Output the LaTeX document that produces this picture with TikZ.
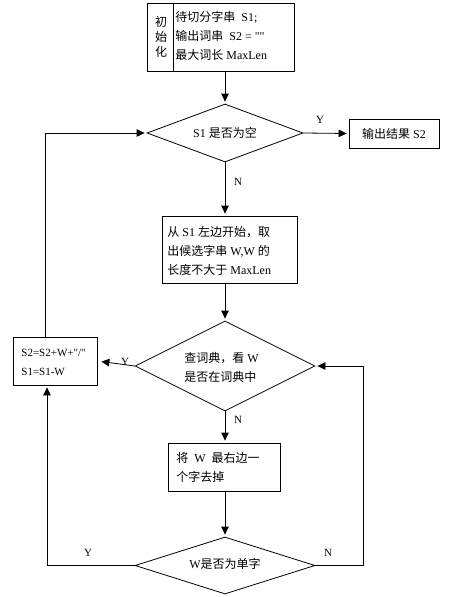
\documentclass[tikz,border=0pt]{standalone}
\usepackage{fontspec}
\setmainfont{Liberation Serif}[Ligatures=TeXOff]
\newfontfamily\cjk{Noto Sans CJK SC}
\usetikzlibrary{shapes.geometric,arrows.meta}
\begin{document}
\begin{tikzpicture}[x=1pt,y=-1pt,
  font=\fontsize{12}{19}\selectfont,
  line width=0.8pt,
  box/.style={draw, inner sep=0pt},
  dia/.style={draw, diamond, inner sep=0pt},
  arr/.style={-{Triangle[length=8pt,width=7.5pt]}, shorten >=2pt},
  lbl/.style={font=\fontsize{11}{12}\selectfont, inner sep=1pt},
  txt/.style={anchor=west, align=left, inner sep=0pt}]
\useasboundingbox (0,0) rectangle (457,597);
\fill[white] (0,0) rectangle (457,597);

% init box
\node[box, minimum width=147pt, minimum height=68pt] (init) at (220.5,37) {};
\draw (173,3) -- (173,71);
\node[align=center, inner sep=0pt, font=\cjk\fontsize{12}{15}\selectfont] (initlbl) at (161,37) {初\\始\\化};
\node[txt] (inittxt) at (175,36) {{\cjk 待切分字串}\ \ S1;\\{\cjk 输出词串}\ \ S2 = ""\\{\cjk 最大词长} MaxLen};

% diamond 1
\node[dia, minimum width=156pt, minimum height=58pt] (d1) at (225,133) {};
\node[inner sep=0pt] (d1t) at (225,133) {S1 {\cjk 是否为空}};

% output box
\node[box, minimum width=90pt, minimum height=29pt] (out) at (394,133.5) {};
\node[inner sep=0pt] (outt) at (394,133.5) {{\cjk 输出结果} S2};

% box 2
\node[box, minimum width=135pt, minimum height=67pt] (b2) at (229.5,249.5) {};
\node[txt] (b2t) at (167,251) {{\cjk 从} S1 {\cjk 左边开始，取}\\{\cjk 出候选字串} W,W {\cjk 的}\\{\cjk 长度不大于} MaxLen};

% diamond 2
\node[dia, minimum width=180pt, minimum height=90pt] (d2) at (225,366) {};
\node[txt] (d2t) at (184,367) {{\cjk 查词典，看} W\\{\cjk 是否在词典中}};

% left box
\node[box, minimum width=84pt, minimum height=48pt] (lb) at (55,361) {};
\node[txt, font=\fontsize{11}{19}\selectfont] (lbt) at (21,362) {S2=S2+W+"/"\\S1=S1-W};

% box 3
\node[box, minimum width=112pt, minimum height=48pt] (b3) at (224,467) {};
\node[txt] (b3t) at (176,467) {{\cjk 将}\ \ W\ \ {\cjk 最右边一}\\{\cjk 个字去掉}};

% diamond 3
\node[dia, minimum width=180pt, minimum height=57pt] (d3) at (225,565.5) {};
\node[inner sep=0pt] (d3t) at (225,564) {W{\cjk 是否为单字}};

% helper coordinates
\coordinate (c1) at (45,133);
\coordinate (c2) at (47,565.5);
\coordinate (c3) at (363,565.5);

% connectors
\draw[arr] (init.south -| d1.north) -- (d1.north);
\draw[arr] (d1.east) -- (out.west);
\draw[arr] (d1.south) -- (d1.south |- b2.north);
\draw[arr] (b2.south -| d2.north) -- (d2.north);
\draw[arr, shorten >=4pt] (d2.west) -- (lb.east);
\draw[arr] (lb.north -| c1) -- (c1) -- (d1.west);
\draw[arr] (d2.south) -- (d2.south |- b3.north);
\draw[arr] (b3.south -| d3.north) -- (d3.north);
\draw[arr] (d3.west) -- (c2) -- (c2 |- lb.south);
\draw[arr] (d3.east) -- (c3) -- (c3 |- d2.east) -- (d2.east);

% labels
\node[lbl] (ly1) at (320,120) {Y};
\node[lbl] (ln1) at (238,182) {N};
\node[lbl] (ly2) at (125,362) {Y};
\node[lbl] (ln2) at (238,420) {N};
\node[lbl] (ly3) at (88,553) {Y};
\node[lbl] (ln3) at (328,553) {N};
\end{tikzpicture}
\end{document}
